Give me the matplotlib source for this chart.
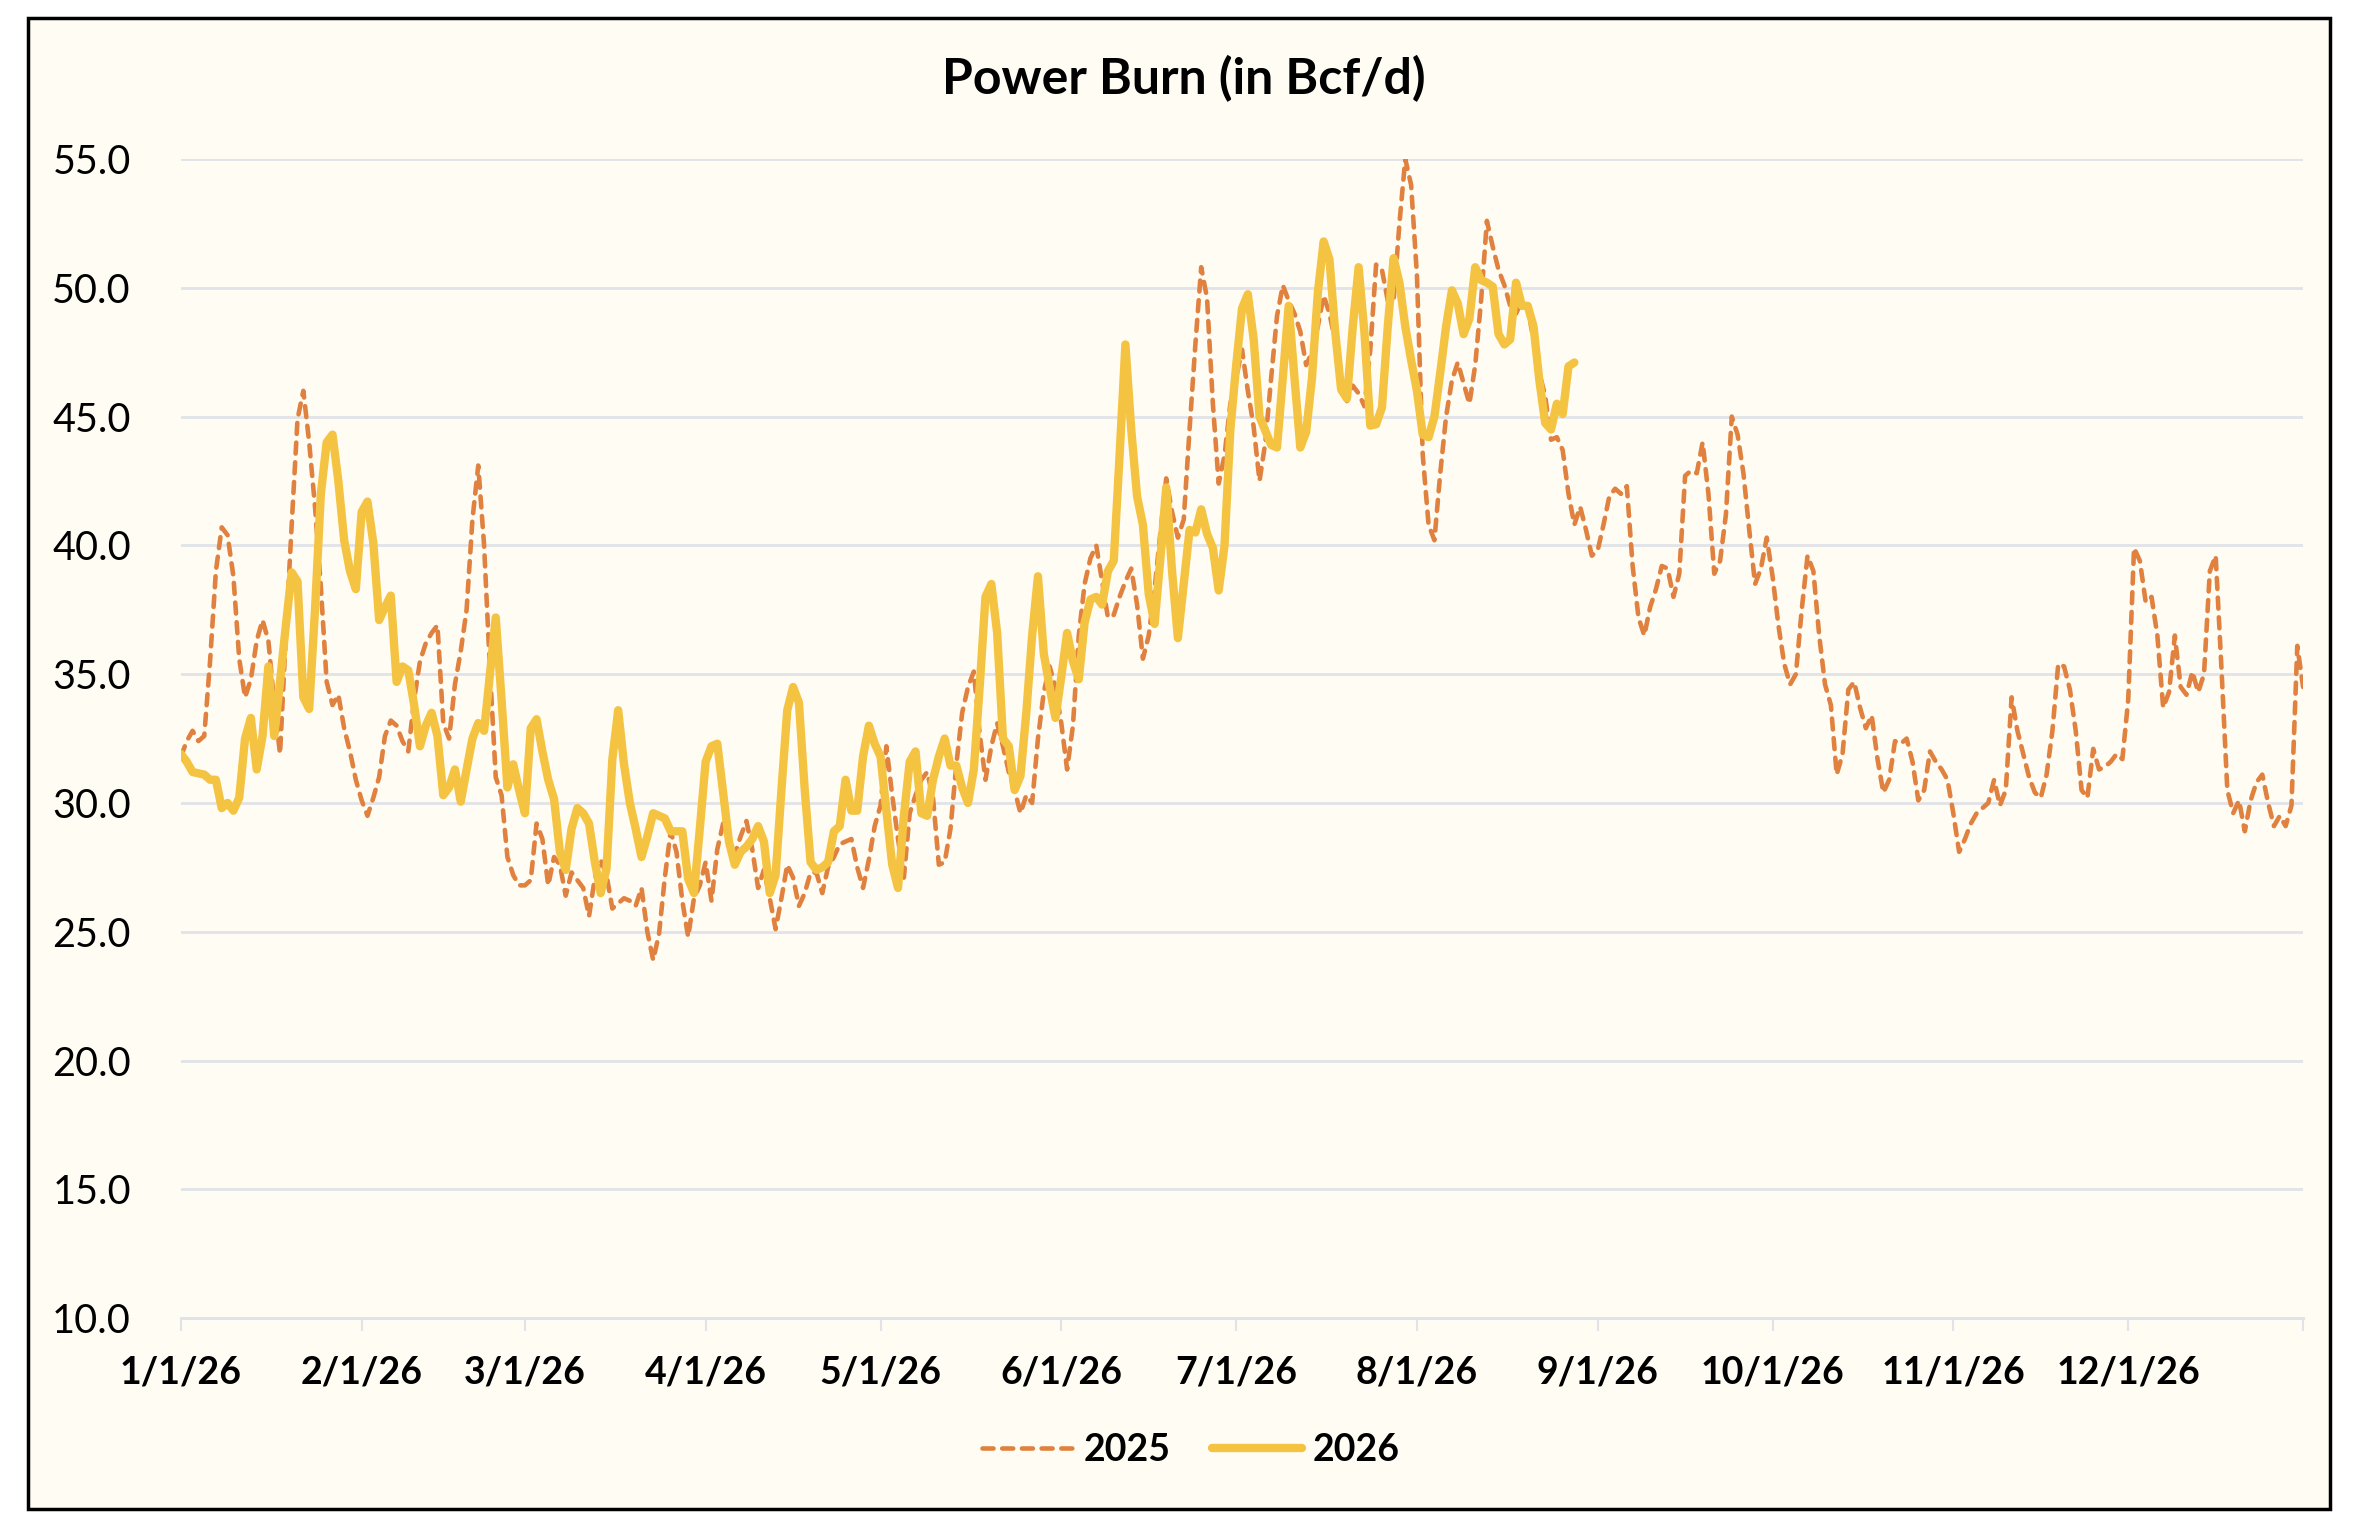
import numpy as np
import pandas as pd
import matplotlib
matplotlib.use("Agg")
import matplotlib.pyplot as plt
import matplotlib.dates as mdates
from matplotlib.patches import Rectangle
from matplotlib.lines import Line2D

plt.rcParams['font.family'] = ['Lato', 'DejaVu Sans']

# daily power burn, Bcf/d (2025 shown on the 2026 calendar for comparison)
burn_2025 = [
    31.8, 32.4, 32.8, 32.4, 32.6, 35.5, 39.0, 40.7, 40.4, 38.8,
    35.6, 34.1, 34.8, 36.3, 37.1, 36.3, 33.9, 31.9, 36.5, 40.8,
    44.9, 46.0, 44.0, 41.5, 38.4, 34.7, 33.8, 34.2, 32.9, 32.0,
    30.9, 30.1, 29.5, 30.2, 31.0, 32.6, 33.2, 33.0, 32.4, 32.0,
    34.0, 35.5, 36.2, 36.6, 36.9, 33.1, 32.5, 34.6, 35.9, 37.5,
    41.0, 43.1, 40.0, 35.2, 31.0, 30.3, 27.9, 27.2, 26.8, 26.8,
    27.0, 29.2, 28.6, 26.8, 27.9, 27.6, 26.4, 27.3, 27.0, 26.7,
    25.6, 27.1, 27.8, 27.2, 25.9, 26.1, 26.3, 26.2, 26.0, 26.7,
    25.0, 23.9, 24.9, 27.1, 28.9, 28.1, 26.2, 24.8, 26.3, 26.8,
    27.7, 26.2, 28.2, 29.2, 28.6, 28.0, 28.7, 29.3, 28.2, 26.7,
    27.4, 26.3, 25.1, 26.3, 27.6, 27.1, 26.0, 26.5, 27.3, 27.3,
    26.5, 27.5, 27.9, 28.4, 28.5, 28.6, 27.5, 26.7, 27.8, 29.1,
    29.9, 32.2, 30.3, 28.6, 27.1, 29.6, 30.3, 30.9, 31.2, 30.2,
    27.6, 27.7, 29.0, 31.5, 33.5, 34.5, 35.1, 32.7, 30.9, 32.2,
    33.1, 32.2, 31.2, 30.5, 29.6, 30.3, 30.0, 32.5, 34.3, 35.3,
    34.5, 33.1, 31.3, 33.0, 36.5, 38.5, 39.5, 40.0, 38.6, 37.2,
    37.3, 38.0, 38.6, 39.1, 37.7, 35.6, 36.5, 38.3, 40.5, 42.6,
    41.3, 40.3, 41.0, 44.5, 47.8, 50.8, 49.6, 45.5, 42.4, 43.5,
    45.5, 46.5, 47.6, 46.0, 44.6, 42.5, 44.0, 46.5, 48.9, 50.1,
    49.5, 49.0, 48.3, 47.0, 47.5, 48.5, 49.7, 49.0, 47.9, 46.5,
    45.6, 46.2, 45.9, 45.4, 47.6, 50.9, 50.7, 49.5, 49.5, 52.5,
    55.0, 54.0, 50.5, 43.5, 40.8, 40.2, 42.8, 45.0, 46.4, 47.1,
    46.3, 45.5, 47.0, 49.5, 52.6, 51.6, 50.7, 50.1, 49.3, 49.0,
    49.5, 49.2, 48.0, 46.7, 45.8, 44.1, 44.2, 43.7, 42.0, 40.8,
    41.5, 40.6, 39.6, 39.8, 40.8, 41.9, 42.2, 42.0, 42.3, 39.2,
    37.2, 36.5, 37.6, 38.3, 39.2, 39.1, 38.0, 38.9, 42.7, 42.9,
    42.8, 44.0, 42.0, 38.9, 39.4, 41.2, 45.0, 44.3, 42.8, 40.6,
    38.5, 39.1, 40.3, 38.8, 36.9, 35.4, 34.6, 35.0, 37.5, 39.6,
    39.0, 36.5, 34.6, 33.8, 31.1, 31.9, 34.4, 34.7, 33.7, 32.9,
    33.4, 31.7, 30.4, 30.9, 32.4, 32.3, 32.5, 31.6, 30.1, 30.5,
    32.0, 31.6, 31.3, 30.9, 29.6, 28.1, 28.6, 29.2, 29.6, 29.8,
    30.0, 30.9, 29.9, 30.5, 34.1, 32.8, 31.9, 31.0, 30.4, 30.2,
    31.1, 32.8, 35.4, 35.3, 34.4, 32.8, 30.5, 30.2, 32.1, 31.3,
    31.4, 31.6, 31.9, 31.7, 34.0, 39.9, 39.4, 37.8, 38.0, 36.5,
    33.7, 34.3, 36.5, 34.5, 34.2, 35.1, 34.3, 35.0, 39.0, 39.6,
    35.2, 30.5, 29.6, 30.1, 28.9, 30.1, 30.8, 31.1, 30.0, 29.1,
    29.5, 29.1, 29.9, 36.1, 34.5,
]

burn_2026 = [
    31.9, 31.6, 31.2, 31.15, 31.1, 30.9, 30.9, 29.8, 30.0, 29.7,
    30.2, 32.5, 33.3, 31.3, 32.6, 35.3, 32.6, 34.7, 36.9, 38.95,
    38.6, 34.1, 33.65, 37.5, 42.0, 44.0, 44.3, 42.5, 40.2, 39.0,
    38.3, 41.3, 41.7, 40.1, 37.1, 37.6, 38.05, 34.7, 35.3, 35.15,
    33.8, 32.2, 33.0, 33.5, 32.6, 30.3, 30.6, 31.3, 30.05, 31.3,
    32.5, 33.1, 32.8, 35.0, 37.2, 34.0, 30.6, 31.5, 30.5, 29.6,
    32.9, 33.25, 32.0, 30.9, 30.15, 28.1, 27.4, 29.0, 29.8, 29.6,
    29.2, 27.7, 26.5, 27.45, 31.7, 33.6, 31.5, 30.0, 29.0, 27.9,
    28.7, 29.6, 29.5, 29.4, 28.9, 28.9, 28.9, 27.05, 26.5, 29.0,
    31.6, 32.2, 32.3, 30.4, 28.5, 27.6, 28.1, 28.3, 28.6, 29.1,
    28.5, 26.5, 27.2, 30.5, 33.6, 34.5, 33.9, 30.5, 27.7, 27.4,
    27.5, 27.7, 28.9, 29.1, 30.9, 29.7, 29.7, 31.8, 33.0, 32.3,
    31.8, 29.7, 27.6, 26.7, 29.5, 31.6, 32.0, 29.6, 29.5, 30.9,
    31.8, 32.5, 31.45, 31.45, 30.6, 30.0, 31.3, 34.5, 38.0, 38.5,
    36.6, 32.5, 32.2, 30.5, 31.05, 33.5, 36.5, 38.8, 35.8, 34.5,
    33.3, 34.9, 36.6, 35.5, 34.8, 37.0, 37.9, 38.0, 37.7, 39.0,
    39.4, 43.5, 47.8, 44.5, 41.9, 40.8, 38.1, 36.95, 39.5, 42.25,
    39.0, 36.4, 38.5, 40.6, 40.5, 41.4, 40.45, 39.9, 38.25, 40.0,
    44.5, 47.0, 49.2, 49.75, 48.0, 45.0, 44.45, 43.9, 43.8, 46.5,
    49.3, 46.5, 43.8, 44.4, 46.5, 49.8, 51.8, 51.1, 48.25, 46.05,
    45.7, 48.5, 50.8, 48.25, 44.65, 44.7, 45.35, 48.5, 51.15, 50.2,
    48.5, 47.2, 46.0, 44.3, 44.2, 45.0, 46.7, 48.5, 49.9, 49.4,
    48.2, 48.8, 50.8, 50.3, 50.2, 50.05, 48.2, 47.8, 48.0, 50.2,
    49.3, 49.3, 48.5, 46.4, 44.75, 44.5, 45.5, 45.1, 46.95, 47.1,
]

series_labels = ["2025", "2026"]
y_ticks = [10, 15, 20, 25, 30, 35, 40, 45, 50, 55]

dates_2025 = pd.date_range("2026-01-01", periods=len(burn_2025), freq="D")
dates_2026 = pd.date_range("2026-01-01", periods=len(burn_2026), freq="D")

bg = "#FEFCF3"
grid_c = "#E1E3E8"
orange = "#E0813F"
gold = "#F5C342"
dash_style = (0, (2.4, 1.9))

fig = plt.figure(figsize=(23.68, 15.38), dpi=100, facecolor="white")

# chart frame
fig.patches.append(Rectangle((0.012, 0.019), 0.972, 0.969, transform=fig.transFigure,
                             facecolor=bg, edgecolor="black", linewidth=2.5, zorder=-1))

ax = fig.add_axes([0.0764, 0.143, 0.8962, 0.7536])
ax.set_facecolor(bg)

ax.plot(dates_2025, burn_2025, color=orange, linewidth=3.3,
        linestyle=dash_style, dash_capstyle="round", label=series_labels[0], zorder=3)
ax.plot(dates_2026, burn_2026, color=gold, linewidth=6,
        solid_capstyle="round", solid_joinstyle="round", label=series_labels[1], zorder=4)

ax.set_ylim(10, 55)
ax.set_yticks(y_ticks)
ax.set_yticklabels([f"{v:.1f}" for v in y_ticks])
ax.set_xlim(dates_2025[0], dates_2025[-1])

month_ticks = list(pd.date_range("2026-01-01", "2026-12-01", freq="MS")) + [dates_2025[-1]]
ax.set_xticks(month_ticks)
ax.set_xticklabels([f"{d.month}/1/26" for d in month_ticks[:-1]] + [""])

ax.grid(axis="y", color=grid_c, linewidth=2)
ax.set_axisbelow(True)
for s in ["top", "right", "left"]:
    ax.spines[s].set_visible(False)
ax.spines["bottom"].set_color(grid_c)
ax.spines["bottom"].set_linewidth(2.2)

ax.tick_params(axis="y", length=0, pad=36, labelsize=28.5, labelcolor="black")
ax.tick_params(axis="x", direction="out", length=9, width=1.5, color=grid_c,
               pad=18, labelsize=27, labelcolor="black")
for lbl in ax.get_xticklabels():
    lbl.set_fontweight("bold")

fig.text(0.5, 0.949, "Power Burn (in Bcf/d)", ha="center", va="center",
         fontsize=36, fontweight="bold")

handles = [
    Line2D([], [], color=orange, linewidth=3.3, linestyle=dash_style, dash_capstyle="round"),
    Line2D([], [], color=gold, linewidth=6, solid_capstyle="round"),
]
fig.legend(handles, series_labels, loc="center", bbox_to_anchor=(0.503, 0.057), ncol=2,
           frameon=False, prop={"size": 27, "weight": "bold"}, handlelength=2.4,
           handletextpad=0.3, columnspacing=1.1)

fig.savefig("out.png", dpi=100, facecolor="white")
